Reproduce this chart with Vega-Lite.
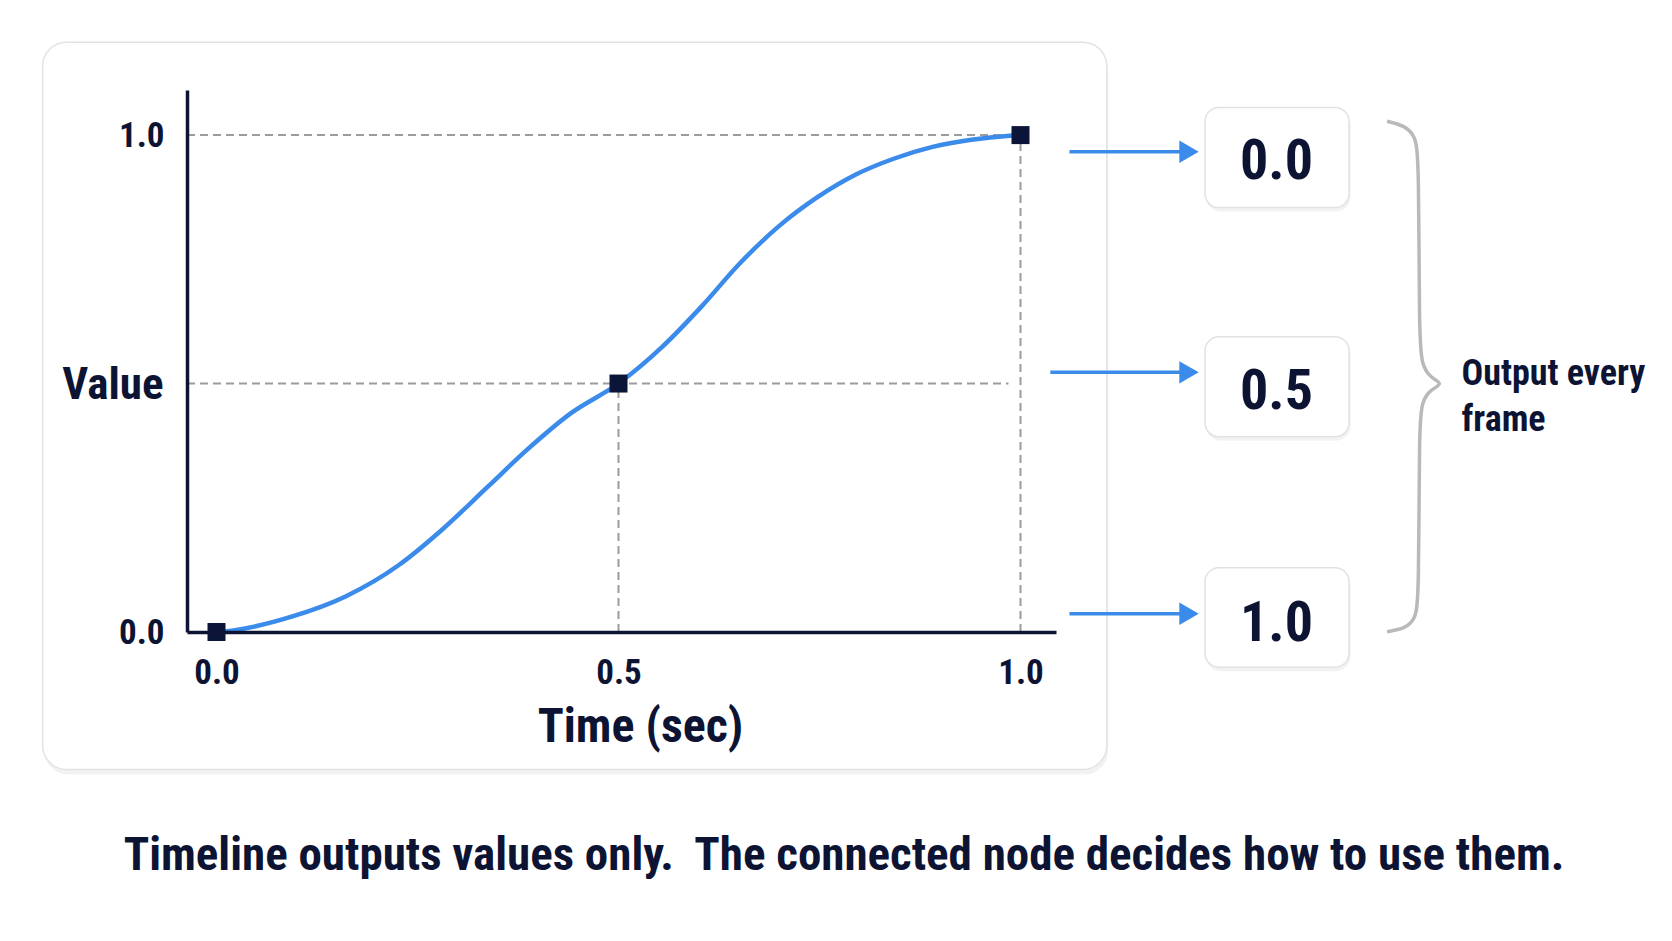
{
  "$schema": "https://vega.github.io/schema/vega-lite/v6.json",
  "width": 869,
  "height": 542,
  "autosize": {"type": "none"},
  "padding": {"left": 187, "top": 90, "right": 616, "bottom": 309},
  "background": "#ffffff",
  "config": {
    "view": {"stroke": null},
    "font": "Liberation Sans Narrow, Roboto Condensed, Roboto, sans-serif"
  },
  "datasets": {
    "card": [{"x": -0.2163, "x2": 1.1073, "y": 1.1868, "y2": -0.2769}],
    "shadow": [{"x": -0.2143, "x2": 1.1093, "y": 1.1808, "y2": -0.2869}],
    "boxes": [
      {"x": 1.2295, "x2": 1.4086, "y": 1.0557, "y2": 0.8541},
      {"x": 1.2295, "x2": 1.4086, "y": 0.5943, "y2": 0.393},
      {"x": 1.2295, "x2": 1.4086, "y": 0.1294, "y2": -0.0708}
    ],
    "boxshadow": [
      {"x": 1.2305, "x2": 1.4106, "y": 1.0497, "y2": 0.8461},
      {"x": 1.2305, "x2": 1.4106, "y": 0.5883, "y2": 0.385},
      {"x": 1.2305, "x2": 1.4106, "y": 0.1234, "y2": -0.0788}
    ],
    "guides": [
      {"x": -0.0367, "x2": 1, "y": 1, "y2": 1},
      {"x": -0.0367, "x2": 0.985, "y": 0.5, "y2": 0.5},
      {"x": 0.5, "x2": 0.5, "y": 0, "y2": 0.5},
      {"x": 1, "x2": 1, "y": 0, "y2": 1}
    ],
    "curve": [
      {"x": 0, "y": 0}, {"x": 0.0098, "y": 0.0012}, {"x": 0.0944, "y": 0.0314},
      {"x": 0.1605, "y": 0.0716}, {"x": 0.2273, "y": 0.1354}, {"x": 0.2805, "y": 0.2059},
      {"x": 0.3378, "y": 0.293}, {"x": 0.3864, "y": 0.3669}, {"x": 0.4409, "y": 0.4404},
      {"x": 0.5, "y": 0.5}, {"x": 0.555, "y": 0.5748}, {"x": 0.6034, "y": 0.6553},
      {"x": 0.6513, "y": 0.7426}, {"x": 0.6992, "y": 0.8163}, {"x": 0.747, "y": 0.8746},
      {"x": 0.7953, "y": 0.9207}, {"x": 0.8431, "y": 0.9529}, {"x": 0.8906, "y": 0.9763},
      {"x": 0.9389, "y": 0.9907}, {"x": 0.9868, "y": 0.9988}, {"x": 1, "y": 1}
    ],
    "keys": [{"x": 0, "y": 0}, {"x": 0.5, "y": 0.5}, {"x": 1, "y": 1}],
    "arrows": [
      {"x": 1.0609, "x2": 1.204, "y": 0.9666},
      {"x": 1.0371, "x2": 1.204, "y": 0.5225},
      {"x": 1.0609, "x2": 1.204, "y": 0.0368}
    ],
    "heads": [
      {"x": 1.2096, "y": 0.9666},
      {"x": 1.2096, "y": 0.5225},
      {"x": 1.2096, "y": 0.0368}
    ],
    "outputs": [
      {"x": 1.3184, "y": 0.9118, "label": "0.0"},
      {"x": 1.3184, "y": 0.4494, "label": "0.5"},
      {"x": 1.3184, "y": -0.0185, "label": "1.0"}
    ],
    "brace": [
      {"i": 1, "x": 1.4559, "y": 1.028},
      {"i": 2, "x": 1.4782, "y": 1.0189},
      {"i": 3, "x": 1.4907, "y": 0.9988},
      {"i": 4, "x": 1.4957, "y": 0.9565},
      {"i": 5, "x": 1.4957, "y": 0.588},
      {"i": 6, "x": 1.4994, "y": 0.5377},
      {"i": 7, "x": 1.5093, "y": 0.5118},
      {"i": 8, "x": 1.5267, "y": 0.4997},
      {"i": 9, "x": 1.5093, "y": 0.4876},
      {"i": 10, "x": 1.4994, "y": 0.4635},
      {"i": 11, "x": 1.4957, "y": 0.4172},
      {"i": 12, "x": 1.4957, "y": 0.065},
      {"i": 13, "x": 1.4907, "y": 0.0248},
      {"i": 14, "x": 1.4782, "y": 0.0066},
      {"i": 15, "x": 1.4559, "y": 0.0006}
    ],
    "note": [
      {"x": 1.5485, "y": 0.4977, "label": "Output every"},
      {"x": 1.5485, "y": 0.4051, "label": "frame"}
    ],
    "caption": [
      {"x": 0.7805, "y": -0.4784, "label": "Timeline outputs values only.\u00a0 The connected node decides how to use them."}
    ]
  },
  "encoding": {
    "x": {
      "field": "x",
      "type": "quantitative",
      "scale": {"domain": [-0.03669, 1.04415], "nice": false, "zero": false},
      "axis": {
        "zindex": 2,
        "values": [0, 0.5, 1],
        "format": ".1f",
        "title": "Time (sec)",
        "ticks": false,
        "grid": false,
        "domainColor": "#0d1433",
        "domainWidth": 3.5,
        "labelFontSize": 35,
        "labelFontWeight": "bold",
        "labelColor": "#0d1433",
        "labelPadding": 23,
        "labelFlush": false,
        "titleFontSize": 48,
        "titleFontWeight": "bold",
        "titleColor": "#0d1433",
        "titleX": 453,
        "titleY": 109,
        "titleBaseline": "alphabetic",
        "titleAlign": "center"
      }
    },
    "y": {
      "field": "y",
      "type": "quantitative",
      "scale": {"domain": [0, 1.09076], "nice": false, "zero": false},
      "axis": {
        "zindex": 2,
        "values": [0, 1],
        "format": ".1f",
        "title": "Value",
        "ticks": false,
        "grid": false,
        "domainColor": "#0d1433",
        "domainWidth": 3.5,
        "labelFontSize": 35,
        "labelFontWeight": "bold",
        "labelColor": "#0d1433",
        "labelPadding": 23,
        "titleFontSize": 45,
        "titleFontWeight": "bold",
        "titleColor": "#0d1433",
        "titleAngle": 0,
        "titleAlign": "right",
        "titleBaseline": "alphabetic",
        "titleX": -24,
        "titleY": 308
      }
    }
  },
  "layer": [
    {
      "data": {"name": "shadow"},
      "mark": {"type": "rect", "fill": "#000000", "opacity": 0.05, "cornerRadius": 24},
      "encoding": {"x2": {"field": "x2"}, "y2": {"field": "y2"}}
    },
    {
      "data": {"name": "card"},
      "mark": {"type": "rect", "fill": "#ffffff", "stroke": "#e2e3e6", "strokeWidth": 1.5, "cornerRadius": 24},
      "encoding": {"x2": {"field": "x2"}, "y2": {"field": "y2"}}
    },
    {
      "data": {"name": "guides"},
      "mark": {"type": "rule", "color": "#9c9c9c", "strokeWidth": 2, "strokeDash": [8, 5]},
      "encoding": {"x2": {"field": "x2"}, "y2": {"field": "y2"}}
    },
    {
      "data": {"name": "curve"},
      "mark": {"type": "line", "color": "#3b8beb", "strokeWidth": 4.5, "interpolate": "monotone"},
      "encoding": {}
    },
    {
      "data": {"name": "keys"},
      "mark": {"type": "point", "shape": "square", "filled": true, "size": 324, "color": "#0b1538", "opacity": 1},
      "encoding": {}
    },
    {
      "data": {"name": "arrows"},
      "mark": {"type": "rule", "color": "#3b8beb", "strokeWidth": 3.5},
      "encoding": {"x2": {"field": "x2"}}
    },
    {
      "data": {"name": "heads"},
      "mark": {"type": "point", "shape": "triangle-right", "filled": true, "size": 500, "color": "#3b8beb", "opacity": 1},
      "encoding": {}
    },
    {
      "data": {"name": "boxshadow"},
      "mark": {"type": "rect", "fill": "#000000", "opacity": 0.05, "cornerRadius": 15},
      "encoding": {"x2": {"field": "x2"}, "y2": {"field": "y2"}}
    },
    {
      "data": {"name": "boxes"},
      "mark": {"type": "rect", "fill": "#ffffff", "stroke": "#e0e2e6", "strokeWidth": 1.5, "cornerRadius": 14},
      "encoding": {"x2": {"field": "x2"}, "y2": {"field": "y2"}}
    },
    {
      "data": {"name": "outputs"},
      "mark": {"type": "text", "fontSize": 56, "fontWeight": "bold", "color": "#0d1433", "align": "center", "baseline": "alphabetic"},
      "encoding": {"text": {"field": "label"}}
    },
    {
      "data": {"name": "brace"},
      "mark": {"type": "line", "color": "#b9b9b9", "strokeWidth": 3.5, "interpolate": "basis"},
      "encoding": {"order": {"field": "i", "type": "quantitative"}}
    },
    {
      "data": {"name": "note"},
      "mark": {"type": "text", "fontSize": 36, "fontWeight": "bold", "color": "#0d1433", "align": "left", "baseline": "alphabetic"},
      "encoding": {"text": {"field": "label"}}
    },
    {
      "data": {"name": "caption"},
      "mark": {"type": "text", "fontSize": 47, "fontWeight": "bold", "color": "#0d1433", "align": "center", "baseline": "alphabetic"},
      "encoding": {"text": {"field": "label"}}
    }
  ]
}
